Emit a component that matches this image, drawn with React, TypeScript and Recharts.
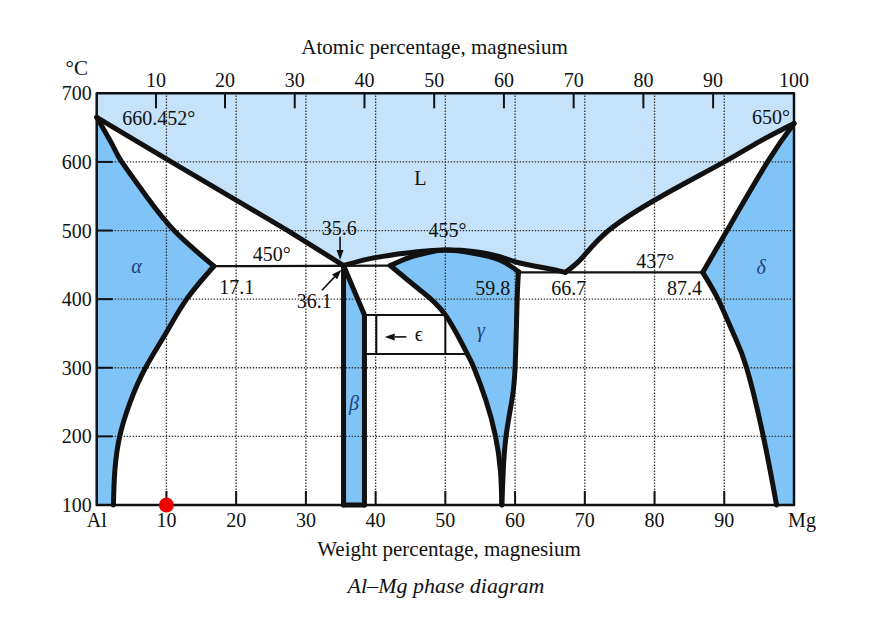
import { ComposedChart, Curve, Scatter, XAxis, YAxis } from "recharts";

// every point is [weight % Mg, temperature in °C]
type Pt = [number, number];

const WT_TICKS = [0, 10, 20, 30, 40, 50, 60, 70, 80, 90, 100];
const WT_TICK_LABELS = ["Al", "10", "20", "30", "40", "50", "60", "70", "80", "90", "Mg"];
const ATOMIC_TICK_LABELS = ["10", "20", "30", "40", "50", "60", "70", "80", "90", "100"];
const ATOMIC_TICK_AT_WT = [8.5, 18.4, 28.4, 38.4, 48.4, 58.4, 68.4, 78.4, 88.4, 100];
const TEMP_TICKS = [100, 200, 300, 400, 500, 600, 700];
const WT_GRID = [10, 20, 30, 40, 50, 60, 70, 80, 90];
const TEMP_GRID = [200, 300, 400, 500, 600];

const LIQUIDUS_AL: Pt[] = [[0, 665], [10.7, 600], [27.4, 500], [35.4, 449]];
const LIQUIDUS_MID: Pt[] = [
  [35.4, 449], [38.7, 458], [42.1, 464], [46, 469], [50, 471.5],
  [54, 469.5], [57.8, 462], [60.5, 453], [64.5, 445], [67.2, 439],
];
const LIQUIDUS_MG: Pt[] = [[67.2, 439], [69.6, 460], [73.4, 500], [81, 550], [90, 600], [95.1, 630], [100, 656]];

const ALPHA_SOLIDUS: Pt[] = [[0, 665], [2.4, 622], [3.6, 600], [7.2, 549], [11.2, 499], [16.8, 448]];
const ALPHA_SOLVUS: Pt[] = [[16.8, 448], [12.9, 400], [9.9, 350], [7, 300], [4.8, 250], [3.3, 200], [2.6, 150], [2.4, 100]];

const BETA_LEFT: Pt[] = [[35.4, 449], [35.4, 100]];
const BETA_RIGHT: Pt[] = [[35.4, 449], [38.4, 377], [38.4, 100]];
const BETA_BOTTOM: Pt[] = [[35.4, 100], [38.4, 100]];

const GAMMA_SOLIDUS: Pt[] = [[42.1, 449], [44.9, 461], [47.5, 468], [50, 471.5], [54, 467], [57.8, 457], [60.5, 440]];
const GAMMA_RIGHT: Pt[] = [[60.5, 440], [60.3, 400], [60, 300], [59.5, 250], [58.7, 200], [58.3, 150], [58.1, 100]];
const GAMMA_LEFT: Pt[] = [
  [42.1, 449], [46.4, 413], [50, 377], [53.1, 321], [54.1, 300],
  [55.8, 253], [57.2, 200], [57.9, 150], [58.1, 100],
];

const DELTA_SOLIDUS: Pt[] = [[86.9, 439], [90.4, 500], [96.2, 600], [100, 656]];
const DELTA_SOLVUS: Pt[] = [[86.9, 439], [89.1, 400], [91.3, 350], [93.2, 300], [95.6, 200], [97.5, 100]];

const EUTECTIC_450: Pt[] = [[16.8, 448], [42.1, 449]];
const EUTECTIC_437: Pt[] = [[60.5, 439], [86.9, 439]];

const EPS_TOP: Pt[] = [[38.4, 377], [50, 377]];
const EPS_BOTTOM: Pt[] = [[38.4, 320], [53.1, 320]];
const EPS_INNER: Pt[] = [[40.1, 320], [40.1, 377]];
const EPS_RIGHT: Pt[] = [[50, 320], [50, 377]];

const FRAME: Pt[] = [[0, 100], [100, 100], [100, 700], [0, 700], [0, 100]];

const VALUE_LABELS = [
  { w: 8.9, t: 654, text: "660.452°" },
  { w: 96.7, t: 655, text: "650°" },
  { w: 46.4, t: 566, text: "L" },
  { w: 25.1, t: 455, text: "450°" },
  { w: 20.1, t: 407, text: "17.1" },
  { w: 34.8, t: 493, text: "35.6" },
  { w: 31.2, t: 387, text: "36.1" },
  { w: 50.3, t: 490, text: "455°" },
  { w: 56.8, t: 406, text: "59.8" },
  { w: 67.7, t: 406, text: "66.7" },
  { w: 80.1, t: 445, text: "437°" },
  { w: 84.3, t: 406, text: "87.4" },
  { w: 46.2, t: 339, text: "ϵ" },
];
const PHASE_LABELS = [
  { w: 5.7, t: 438, text: "α" },
  { w: 36.9, t: 238, text: "β" },
  { w: 55.1, t: 345, text: "γ" },
  { w: 95.3, t: 437, text: "δ" },
];
const ARROWS: Pt[][] = [
  [[34.9, 491], [34.9, 457]],
  [[32.3, 413], [35.1, 443]],
  [[44.4, 345], [41.3, 345]],
];
const MARKED = [{ w: 10, t: 100 }];

const LIGHT = "#c4e2fa";
const MID = "#80c3f6";
const INK = "#111";
const NAVY = "#1f3f78";
const FONT = "'Liberation Serif', 'Times New Roman', serif";

const rows = (pts: Pt[]) => pts.map(([w, t]) => ({ w, t }));
const NoDot = () => <g />;

function fill(key: string, pts: Pt[], color: string) {
  return (
    <Scatter
      key={key}
      data={rows(pts)}
      shape={NoDot}
      line={(p: any) => <Curve points={p.points} type="linear" fill={color} stroke="none" />}
      isAnimationActive={false}
    />
  );
}

function curve(key: string, pts: Pt[], width: number, type = "natural", dash?: string, color = INK) {
  return (
    <Scatter
      key={key}
      data={rows(pts)}
      shape={NoDot}
      line={(p: any) => (
        <Curve
          points={p.points}
          type={type as any}
          fill="none"
          stroke={color}
          strokeWidth={width}
          strokeDasharray={dash}
          strokeLinejoin="round"
          strokeLinecap={dash ? "butt" : "round"}
        />
      )}
      isAnimationActive={false}
    />
  );
}

function ArrowLine(props: any) {
  const [a, b] = props.points;
  const dx = b.x - a.x;
  const dy = b.y - a.y;
  const len = Math.hypot(dx, dy) || 1;
  const ux = dx / len;
  const uy = dy / len;
  const bx = b.x - ux * 10;
  const by = b.y - uy * 10;
  const head = `${b.x},${b.y} ${bx - uy * 3.5},${by + ux * 3.5} ${bx + uy * 3.5},${by - ux * 3.5}`;
  return (
    <g>
      <line x1={a.x} y1={a.y} x2={bx} y2={by} stroke={INK} strokeWidth={1.6} />
      <polygon points={head} fill={INK} />
    </g>
  );
}

function labelShape(italic: boolean, color: string) {
  return (p: any) => (
    <text
      x={p.cx}
      y={p.cy}
      textAnchor="middle"
      fontFamily={FONT}
      fontSize={20}
      fontStyle={italic ? "italic" : "normal"}
      fill={color}
    >
      {p.payload.text}
    </text>
  );
}

// inward tick marks, placed by the chart's scales
const LeftMark = (p: any) => <line x1={p.cx} x2={p.cx + 16} y1={p.cy} y2={p.cy} stroke={INK} strokeWidth={2} />;
const BottomMark = (p: any) => <line x1={p.cx} x2={p.cx} y1={p.cy} y2={p.cy - 14} stroke={INK} strokeWidth={2} />;
const TopMark = (p: any) => (
  <g>
    {p.payload.w < 100 && <line x1={p.cx} x2={p.cx} y1={p.cy} y2={p.cy + 15} stroke={INK} strokeWidth={2} />}
    <text x={p.cx} y={p.cy - 6} textAnchor="middle" fontFamily={FONT} fontSize={20} fill={INK}>
      {p.payload.text}
    </text>
  </g>
);

function BottomTick({ x, y, payload, index }: any) {
  return (
    <text x={payload.value === 100 ? x + 8 : x} y={y + 22} textAnchor="middle" fontFamily={FONT} fontSize={20} fill={INK}>
      {WT_TICK_LABELS[index]}
    </text>
  );
}

function LeftTick({ x, y, payload }: any) {
  return (
    <text x={x - 5} y={y + 7} textAnchor="end" fontFamily={FONT} fontSize={20} fill={INK}>
      {payload.value}
    </text>
  );
}

export default function App() {
  const liquid: Pt[] = [[0, 700], ...LIQUIDUS_AL, ...LIQUIDUS_MID.slice(1), ...LIQUIDUS_MG.slice(1), [100, 700]];
  const alpha: Pt[] = [...ALPHA_SOLIDUS, ...ALPHA_SOLVUS.slice(1), [0, 100]];
  const beta: Pt[] = [...BETA_RIGHT, [35.4, 100]];
  const gamma: Pt[] = [...GAMMA_SOLIDUS, ...GAMMA_RIGHT.slice(1), ...[...GAMMA_LEFT].reverse().slice(1)];
  const delta: Pt[] = [...[...DELTA_SOLIDUS].reverse(), ...DELTA_SOLVUS.slice(1), [100, 100]];

  const leftMarks = TEMP_TICKS.slice(1, -1).map((t) => ({ w: 0, t }));
  const bottomMarks = WT_TICKS.slice(1, -1).map((w) => ({ w, t: 100 }));
  const topMarks = ATOMIC_TICK_AT_WT.map((w, i) => ({ w, t: 700, text: ATOMIC_TICK_LABELS[i] }));

  return (
    <ComposedChart width={864} height={604} margin={{ top: 85.3, right: 78, bottom: 77, left: 28.7 }}>
      <XAxis
        dataKey="w"
        type="number"
        domain={[0, 100]}
        ticks={WT_TICKS}
        interval={0}
        height={30}
        tickSize={0}
        tickMargin={0}
        tickLine={false}
        axisLine={false}
        tick={<BottomTick />}
      />
      <YAxis
        dataKey="t"
        type="number"
        domain={[100, 700]}
        ticks={TEMP_TICKS}
        interval={0}
        width={60}
        tickSize={0}
        tickMargin={0}
        tickLine={false}
        axisLine={false}
        tick={<LeftTick />}
      />

      {fill("f-liquid", liquid, LIGHT)}
      {fill("f-alpha", alpha, MID)}
      {fill("f-beta", beta, MID)}
      {fill("f-gamma", gamma, MID)}
      {fill("f-delta", delta, MID)}

      {WT_GRID.map((v) => curve(`gx${v}`, [[v, 100], [v, 700]], 1.3, "linear", "1.4 1.6", "#333"))}
      {TEMP_GRID.map((v) => curve(`gy${v}`, [[0, v], [100, v]], 1.3, "linear", "1.4 1.6", "#333"))}

      <Scatter data={leftMarks} shape={LeftMark} isAnimationActive={false} />
      <Scatter data={bottomMarks} shape={BottomMark} isAnimationActive={false} />
      <Scatter data={topMarks} shape={TopMark} isAnimationActive={false} />

      {curve("e450", EUTECTIC_450, 2.2, "linear")}
      {curve("e437", EUTECTIC_437, 2.2, "linear")}
      {curve("eps-top", EPS_TOP, 2, "linear")}
      {curve("eps-bottom", EPS_BOTTOM, 2, "linear")}
      {curve("eps-inner", EPS_INNER, 2, "linear")}
      {curve("eps-right", EPS_RIGHT, 2, "linear")}

      {curve("liq-al", LIQUIDUS_AL, 5, "linear")}
      {curve("liq-mid", LIQUIDUS_MID, 5)}
      {curve("liq-mg", LIQUIDUS_MG, 5)}
      {curve("a-sol", ALPHA_SOLIDUS, 5)}
      {curve("a-solv", ALPHA_SOLVUS, 5)}
      {curve("b-left", BETA_LEFT, 5, "linear")}
      {curve("b-right", BETA_RIGHT, 5, "linear")}
      {curve("b-bottom", BETA_BOTTOM, 5, "linear")}
      {curve("g-sol", GAMMA_SOLIDUS, 5)}
      {curve("g-right", GAMMA_RIGHT, 5)}
      {curve("g-left", GAMMA_LEFT, 5)}
      {curve("d-sol", DELTA_SOLIDUS, 5)}
      {curve("d-solv", DELTA_SOLVUS, 5)}

      {curve("frame", FRAME, 2.5, "linear")}

      {ARROWS.map((a, i) => (
        <Scatter key={`arrow${i}`} data={rows(a)} shape={NoDot} line={ArrowLine} isAnimationActive={false} />
      ))}

      <Scatter data={VALUE_LABELS} shape={labelShape(false, INK)} isAnimationActive={false} />
      <Scatter data={PHASE_LABELS} shape={labelShape(true, NAVY)} isAnimationActive={false} />
      <Scatter
        data={MARKED}
        shape={(p: any) => <circle cx={p.cx} cy={p.cy} r={7.5} fill="#ee0000" />}
        isAnimationActive={false}
      />

      <text x={68.7} y={67} textAnchor="middle" fontFamily={FONT} fontSize={21} fill={INK}>°C</text>
      <text x={426.5} y={46} textAnchor="middle" fontFamily={FONT} fontSize={21} fill={INK}>
        Atomic percentage, magnesium
      </text>
      <text x={441} y={548} textAnchor="middle" fontFamily={FONT} fontSize={21} fill={INK}>
        Weight percentage, magnesium
      </text>
      <text x={438} y={585} textAnchor="middle" fontFamily={FONT} fontSize={22} fontStyle="italic" fill={INK}>
        Al–Mg phase diagram
      </text>
    </ComposedChart>
  );
}
